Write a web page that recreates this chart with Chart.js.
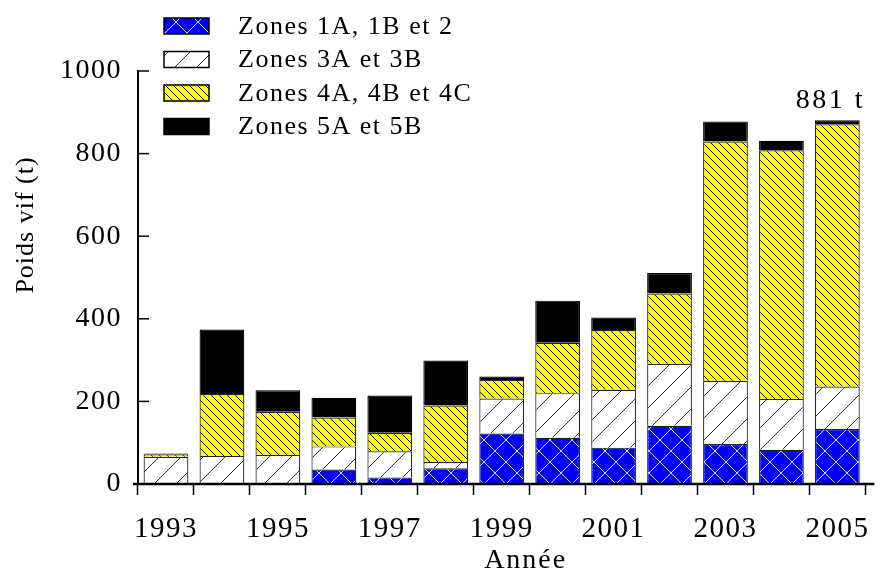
<!DOCTYPE html>
<html>
<head>
<meta charset="utf-8">
<script src="https://cdn.jsdelivr.net/npm/chart.js@4/dist/chart.umd.min.js"></script>
<style>
    html, body { margin: 0; padding: 0; background: #fff; }
    #wrap { width: 887px; height: 569px; }
</style>
</head>
<body>
<div id="wrap"><canvas id="chart"></canvas></div>
<script>
// values (t)
var years = ['1993', '1994', '1995', '1996', '1997', '1998', '1999', '2000', '2001', '2002', '2003', '2004', '2005'];
var zones12 = [0, 0, 0, 35, 16, 38, 122, 112, 88, 141, 97, 83, 133];
var zones3 = [66, 68, 71, 56, 63, 15, 85, 108, 140, 150, 153, 123, 103];
var zones4 = [6, 150, 104, 70, 45, 137, 45, 122, 145, 170, 579, 602, 635];
var zones5 = [2, 156, 52, 48, 90, 109, 8, 102, 30, 50, 49, 23, 10];
var seriesNames = ['Zones 1A, 1B et 2', 'Zones 3A et 3B', 'Zones 4A, 4B et 4C', 'Zones 5A et 5B'];
var yTicks = [0, 200, 400, 600, 800, 1000];
var totalLabel = '881 t';

var FONT = "'Liberation Serif', 'DejaVu Serif', serif";

/**
 * Function to build a hatch pattern
 *
 * @param string bg
 * @param string line
 * @param int size
 * @param array dirs
 */
function makeHatch(bg, line, size, dirs, width) {
    var c = document.createElement('canvas');
    c.width = size;
    c.height = size;
    var ctx = c.getContext('2d');
    ctx.fillStyle = bg;
    ctx.fillRect(0, 0, size, size);
    ctx.strokeStyle = line;
    ctx.lineWidth = width;
    dirs.forEach(function (d) {
        ctx.beginPath();
        if (d === '/') {
            ctx.moveTo(-2, size + 2); ctx.lineTo(size + 2, -2);
            ctx.moveTo(-2, 2); ctx.lineTo(2, -2);
            ctx.moveTo(size - 2, size + 2); ctx.lineTo(size + 2, size - 2);
        } else {
            ctx.moveTo(-2, -2); ctx.lineTo(size + 2, size + 2);
            ctx.moveTo(size - 2, -2); ctx.lineTo(size + 2, 2);
            ctx.moveTo(-2, size - 2); ctx.lineTo(2, size + 2);
        }
        ctx.stroke();
    });
    return ctx.createPattern(c, 'repeat');
}

var fills = [
    makeHatch('#0000ff', '#dddddd', 22, ['/', '\\'], 1),
    makeHatch('#ffffff', '#333333', 22, ['/'], 1),
    makeHatch('#ffff00', '#000000', 8, ['\\'], 1),
    '#000000'
];
var seriesData = [zones12, zones3, zones4, zones5];

var datasets = [];
seriesData.forEach(function (row, i) {
    datasets.push({
        label: seriesNames[i],
        data: row,
        backgroundColor: fills[i],
        borderColor: i === 3 ? '#000' : '#222',
        borderWidth: 1.2,
        barPercentage: 0.8,
        categoryPercentage: 1.0
    });
});

// the reference type is set wide, so space the letters a bit
var spacing = {
    id: 'spacing',
    beforeLayout: function (chart) { chart.ctx.letterSpacing = '1.5px'; },
    beforeDraw: function (chart) { chart.ctx.letterSpacing = '1.5px'; }
};

// legend, inner y ticks, axis titles and total label
var extras = {
    id: 'extras',
    afterDraw: function (chart) {
        var ctx = chart.ctx;
        var area = chart.chartArea;
        var x = chart.scales.x;
        var y = chart.scales.y;
        ctx.save();

        // inner y ticks
        ctx.strokeStyle = '#000';
        ctx.lineWidth = 1.5;
        yTicks.forEach(function (v) {
            var py = y.getPixelForValue(v);
            ctx.beginPath();
            ctx.moveTo(area.left, py);
            ctx.lineTo(area.left + 11, py);
            ctx.stroke();
        });

        // x axis line running a bit past the last bar
        ctx.lineWidth = 2.5;
        ctx.beginPath();
        ctx.moveTo(area.left - 5, area.bottom);
        ctx.lineTo(area.right + 9, area.bottom);
        ctx.stroke();

        // y title
        ctx.fillStyle = '#000';
        ctx.letterSpacing = '1px';
        ctx.font = '26px ' + FONT;
        ctx.textAlign = 'center';
        ctx.textBaseline = 'middle';
        ctx.save();
        ctx.translate(26, 225);
        ctx.rotate(-Math.PI / 2);
        ctx.fillText('Poids vif (t)', 0, 0);
        ctx.restore();

        // x title, sits a little right of the axis centre in the reference
        ctx.letterSpacing = '2px';
        ctx.font = '28px ' + FONT;
        ctx.textAlign = 'center';
        ctx.textBaseline = 'alphabetic';
        ctx.fillText('Année', (area.left + area.right) / 2 + 24, 568);

        // total label above last bar
        var last = years.length - 1;
        var total = zones12[last] + zones3[last] + zones4[last] + zones5[last];
        ctx.letterSpacing = '2.5px';
        ctx.font = '28px ' + FONT;
        ctx.fillText(totalLabel, x.getPixelForValue(last) - 7, y.getPixelForValue(total) - 12);

        // legend
        ctx.letterSpacing = '1.5px';
        ctx.font = '26px ' + FONT;
        ctx.textAlign = 'left';
        ctx.textBaseline = 'middle';
        chart.data.datasets.forEach(function (ds, i) {
            var cy = 26 + i * 33.5;
            ctx.fillStyle = ds.backgroundColor;
            ctx.fillRect(164, cy - 8, 45, 16);
            ctx.strokeStyle = '#000';
            ctx.lineWidth = 1.5;
            ctx.strokeRect(164, cy - 8, 45, 16);
            ctx.fillStyle = '#000';
            ctx.fillText(ds.label, 238, cy + 1);
        });
        ctx.restore();
    }
};

new Chart(document.getElementById('chart'), {
    type: 'bar',
    data: {
        labels: years,
        datasets: datasets
    },
    plugins: [spacing, extras],
    options: {
        responsive: true,
        maintainAspectRatio: false,
        animation: false,
        layout: {
            padding: { top: 71, right: 16, left: 0, bottom: 0 }
        },
        plugins: {
            legend: { display: false },
            tooltip: { enabled: false }
        },
        scales: {
            x: {
                stacked: true,
                offset: true,
                afterFit: function (scale) {
                    scale.height = 85;
                },
                border: { display: false },
                grid: {
                    drawOnChartArea: false,
                    drawTicks: true,
                    tickLength: 11,
                    tickWidth: 1.5,
                    tickColor: '#000'
                },
                ticks: {
                    color: '#000',
                    padding: 17,
                    maxRotation: 0,
                    autoSkip: false,
                    font: { family: FONT, size: 29 },
                    callback: function (value, index) {
                        return index % 2 === 0 ? years[index] : '';
                    }
                }
            },
            y: {
                stacked: true,
                min: 0,
                max: 1000,
                afterFit: function (scale) {
                    scale.width = 138;
                },
                border: { display: true, color: '#000', width: 2 },
                grid: { display: false, drawTicks: false },
                ticks: {
                    color: '#000',
                    padding: 16,
                    stepSize: 200,
                    font: { family: FONT, size: 28 },
                    callback: function (value) {
                        return String(value);
                    }
                }
            }
        }
    }
});
</script>
</body>
</html>
